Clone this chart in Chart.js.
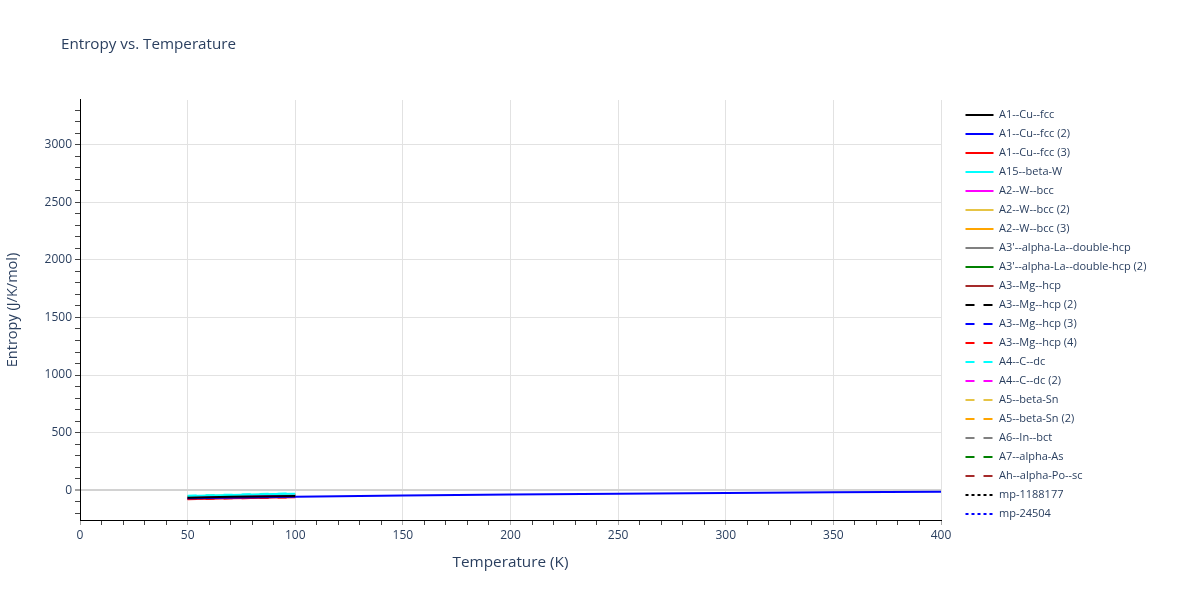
<!DOCTYPE html>
<html>
<head>
<meta charset="utf-8">
<script src="https://cdn.jsdelivr.net/npm/chart.js@4/dist/chart.umd.min.js"></script>
<style>
  html, body { margin: 0; padding: 0; background: #fff; }
  #wrap { width: 1200px; height: 600px; }
</style>
</head>
<body>
<div id="wrap"><canvas id="c" width="1200" height="600"></canvas></div>
<script>
// Temperatures (K)
const tShort = [50, 60, 70, 80, 90, 100];
const tLong = [50, 75, 100, 150, 200, 250, 300, 350, 400];

// Entropy values (J/K/mol)
const A1_Cu_fcc      = [-66, -62, -59, -56, -53, -51];
const A1_Cu_fcc_2    = [-72, -64, -58, -47, -38, -31, -25, -19, -14];
const A1_Cu_fcc_3    = [-78, -75, -71, -68, -65, -62];
const A15_beta_W     = [-52, -47, -42, -38, -34, -31];
const A2_W_bcc       = [-64, -60, -57, -54, -51, -48];
const A2_W_bcc_2     = [-55, -50, -46, -42, -39, -36];
const A2_W_bcc_3     = [-58, -53, -49, -45, -42, -39];
const A3p_La_dhcp    = [-70, -66, -63, -60, -57, -55];
const A3p_La_dhcp_2  = [-60, -56, -52, -49, -46, -43];
const A3_Mg_hcp      = [-73, -69, -66, -63, -60, -58];
const A3_Mg_hcp_2    = [-68, -64, -61, -58, -55, -53];
const A3_Mg_hcp_3    = [-71, -67, -64, -61, -58, -56];
const A3_Mg_hcp_4    = [-79, -75, -72, -69, -66, -63];
const A4_C_dc        = [-50, -45, -40, -36, -32, -28];
const A4_C_dc_2      = [-62, -58, -54, -51, -48, -45];
const A5_beta_Sn     = [-54, -49, -45, -41, -38, -35];
const A5_beta_Sn_2   = [-57, -52, -48, -44, -41, -38];
const A6_In_bct      = [-69, -65, -62, -59, -56, -54];
const A7_alpha_As    = [-61, -57, -53, -50, -47, -44];
const Ah_alpha_Po_sc = [-74, -70, -67, -64, -61, -59];
const mp_1188177     = [-67, -63, -60, -57, -54, -52];
const mp_24504       = [-72, -69, -66, -63, -60, -58];

const seriesNames = [
  'A1--Cu--fcc', 'A1--Cu--fcc (2)', 'A1--Cu--fcc (3)', 'A15--beta-W', 'A2--W--bcc',
  'A2--W--bcc (2)', 'A2--W--bcc (3)', "A3'--alpha-La--double-hcp", "A3'--alpha-La--double-hcp (2)",
  'A3--Mg--hcp', 'A3--Mg--hcp (2)', 'A3--Mg--hcp (3)', 'A3--Mg--hcp (4)', 'A4--C--dc',
  'A4--C--dc (2)', 'A5--beta-Sn', 'A5--beta-Sn (2)', 'A6--In--bct', 'A7--alpha-As',
  'Ah--alpha-Po--sc', 'mp-1188177', 'mp-24504'
];
const seriesValues = [
  A1_Cu_fcc, A1_Cu_fcc_2, A1_Cu_fcc_3, A15_beta_W, A2_W_bcc, A2_W_bcc_2, A2_W_bcc_3,
  A3p_La_dhcp, A3p_La_dhcp_2, A3_Mg_hcp, A3_Mg_hcp_2, A3_Mg_hcp_3, A3_Mg_hcp_4, A4_C_dc,
  A4_C_dc_2, A5_beta_Sn, A5_beta_Sn_2, A6_In_bct, A7_alpha_As, Ah_alpha_Po_sc, mp_1188177, mp_24504
];
const seriesTemps = seriesValues.map(v => v.length === tLong.length ? tLong : tShort);
const seriesColors = [
  '#000000', '#0000ff', '#ff0000', '#00ffff', '#ff00ff', '#e6c445', '#ffa500', '#808080', '#008000', '#a52a2a',
  '#000000', '#0000ff', '#ff0000', '#00ffff', '#ff00ff', '#e6c445', '#ffa500', '#808080', '#008000', '#a52a2a',
  '#000000', '#0000ff'
];
const seriesDash = seriesNames.map((n, i) => i < 10 ? [] : (i < 20 ? [9, 9] : [3, 3]));

const xTickLabels = [0, 50, 100, 150, 200, 250, 300, 350, 400];
const yTickLabels = [0, 500, 1000, 1500, 2000, 2500, 3000];

const FONT = "'Open Sans', 'Noto Sans', sans-serif";
const TXT = '#2a3f5f';

const datasets = seriesNames.map((name, i) => ({
  label: name,
  data: seriesValues[i].map((v, j) => ({ x: seriesTemps[i][j], y: v })),
  borderColor: seriesColors[i],
  backgroundColor: seriesColors[i],
  borderWidth: 2,
  borderDash: seriesDash[i],
  pointRadius: 0,
  fill: false,
  tension: 0
}));

const tweaks = {
  id: 'tweaks',
  beforeLayout(chart) {
    const lg = chart.legend;
    if (lg && !lg._patched) {
      const f = lg.fit;
      lg.fit = function () { f.call(this); this.width = 259; };
      lg._patched = true;
    }
  },
  afterLayout(chart) {
    if (chart.legend) { chart.legend.left += 16.5; chart.legend.top = 101.5; }
    if (chart.titleBlock) { chart.titleBlock.left = 61; }
  }
};

new Chart(document.getElementById('c'), {
  type: 'line',
  data: { datasets },
  plugins: [tweaks],
  options: {
    responsive: false,
    animation: false,
    devicePixelRatio: 1,
    layout: { padding: 0 },
    plugins: {
      title: {
        display: true,
        text: 'Entropy vs. Temperature',
        align: 'start',
        color: TXT,
        font: { family: FONT, size: 15.2, weight: 'normal', lineHeight: 1.2 },
        padding: { top: 36, bottom: 45.76 }
      },
      legend: {
        display: true,
        position: 'right',
        align: 'start',
        fullSize: true,
        labels: {
          usePointStyle: true,
          pointStyle: 'line',
          pointStyleWidth: 28,
          padding: 8,
          color: TXT,
          font: { family: FONT, size: 11 },
          generateLabels(chart) {
            return chart.data.datasets.map((ds, i) => ({
              text: ds.label,
              fillStyle: ds.borderColor,
              strokeStyle: ds.borderColor,
              lineWidth: 2,
              lineDash: ds.borderDash,
              lineCap: 'butt',
              pointStyle: 'line',
              hidden: false,
              fontColor: TXT,
              datasetIndex: i
            }));
          }
        }
      },
      tooltip: { enabled: false }
    },
    scales: {
      x: {
        type: 'linear',
        min: 0,
        max: 400,
        afterFit(s) { s.height = 80; },
        ticks: {
          stepSize: 10,
          autoSkip: false,
          maxRotation: 0,
          includeBounds: false,
          padding: 3,
          color: TXT,
          font: { family: FONT, size: 12 },
          callback: v => xTickLabels.includes(v) ? String(v) : ''
        },
        grid: {
          color: c => (xTickLabels.includes(c.tick.value) && c.tick.value !== 0) ? '#e2e2e2' : 'rgba(0,0,0,0)',
          lineWidth: 1,
          drawTicks: true,
          tickLength: 5,
          tickWidth: 1,
          tickColor: c => xTickLabels.includes(c.tick.value) ? '#a8a8a8' : '#444'
        },
        border: { color: '#000', width: 1 },
        title: {
          display: true,
          text: 'Temperature (K)',
          color: TXT,
          font: { family: FONT, size: 15.3, lineHeight: 1.2 },
          padding: { top: 4, bottom: 27.8 }
        }
      },
      y: {
        type: 'linear',
        min: -260,
        max: 3390,
        afterFit(s) { s.width = 80; },
        ticks: {
          stepSize: 100,
          autoSkip: false,
          includeBounds: false,
          padding: 3,
          color: TXT,
          font: { family: FONT, size: 12 },
          callback: v => yTickLabels.includes(v) ? String(v) : ''
        },
        grid: {
          color: c => c.tick.value === 0 ? '#d2d2d2' : (yTickLabels.includes(c.tick.value) ? '#e2e2e2' : 'rgba(0,0,0,0)'),
          lineWidth: c => c.tick.value === 0 ? 2 : 1,
          drawTicks: true,
          tickLength: 5,
          tickWidth: 1,
          tickColor: '#444'
        },
        border: { color: '#000', width: 1 },
        title: {
          display: true,
          text: 'Entropy (J/K/mol)',
          color: TXT,
          font: { family: FONT, size: 14.5, lineHeight: 1.2 },
          padding: { top: 4.3, bottom: 4 }
        }
      }
    }
  }
});
</script>
</body>
</html>
